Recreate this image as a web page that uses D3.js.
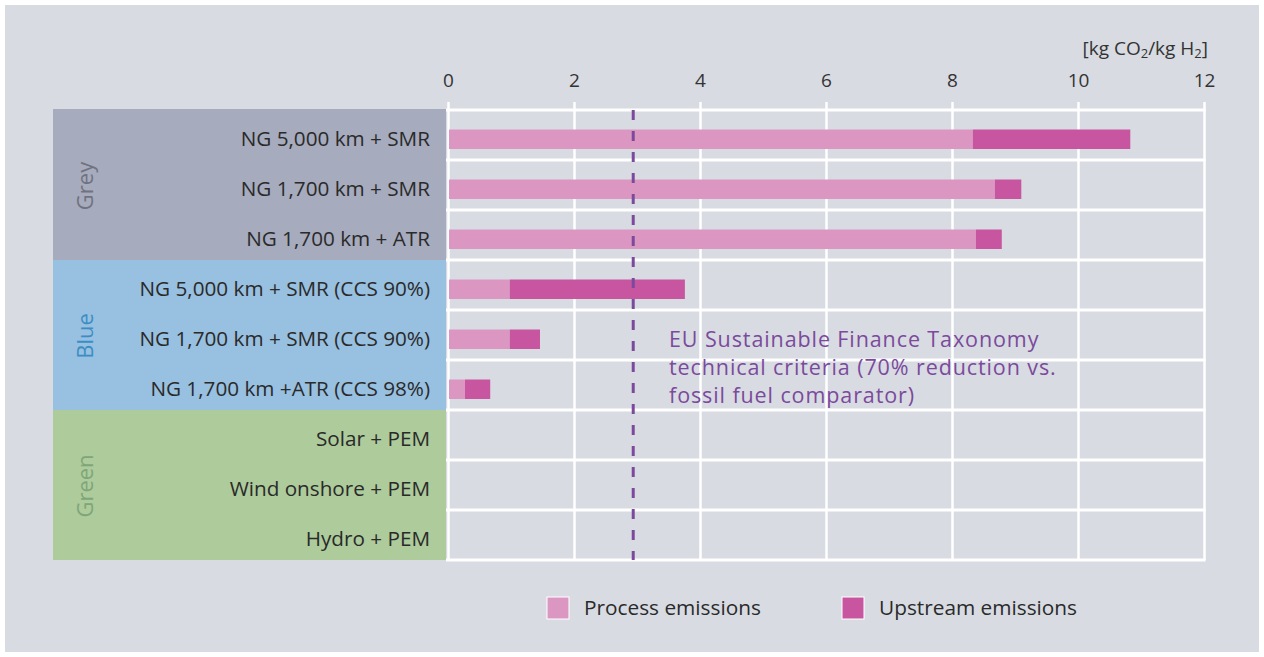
<!DOCTYPE html>
<html>
<head>
<meta charset="utf-8">
<script src="https://cdn.jsdelivr.net/npm/d3@7"></script>
<style>
  html, body { margin: 0; padding: 0; background: #ffffff; }
  svg { display: block; font-family: "Open Sans", sans-serif; }
</style>
</head>
<body>
<svg id="chart" width="1264" height="657"></svg>
<script>
// data
var categories = [
    "NG 5,000 km + SMR",
    "NG 1,700 km + SMR",
    "NG 1,700 km + ATR",
    "NG 5,000 km + SMR (CCS 90%)",
    "NG 1,700 km + SMR (CCS 90%)",
    "NG 1,700 km +ATR (CCS 98%)",
    "Solar + PEM",
    "Wind onshore + PEM",
    "Hydro + PEM"
];
var groupNames = ["Grey", "Blue", "Green"];
var groupOf = ["Grey", "Grey", "Grey", "Blue", "Blue", "Blue", "Green", "Green", "Green"];
var processEmissions  = [8.33, 8.68, 8.38, 0.98, 0.98, 0.27, 0, 0, 0];
var upstreamEmissions = [2.50, 0.42, 0.41, 2.78, 0.48, 0.40, 0, 0, 0];
var thresholdValue = 2.94;
var xTicks = [0, 2, 4, 6, 8, 10, 12];
var seriesNames = ["Process emissions", "Upstream emissions"];

var groupFill  = { "Grey": "#a6abbd", "Blue": "#98c0e0", "Green": "#adcb9b" };
var groupText  = { "Grey": "#70737f", "Blue": "#3b8ec4", "Green": "#7ea679" };
var seriesFill = ["#db97c2", "#c8559f"];
var purple = "#7b4a9c";

var svg = d3.select("#chart");

// panel
svg.append("rect")
    .attr("x", 5).attr("y", 5)
    .attr("width", 1254).attr("height", 647)
    .attr("fill", "#d8dbe2");

var x = d3.scaleLinear().domain([0, 12]).range([448, 1204]);
var y = d3.scaleBand().domain(categories).range([110, 560]).paddingInner(0);
var bw = y.bandwidth();

// group blocks on the left
groupNames.forEach(function(g) {
    var rows = categories.filter(function(c, i) { return groupOf[i] == g; });
    var top = y(rows[0]);
    var bottom = y(rows[rows.length - 1]) + bw;
    svg.append("rect")
        .attr("x", 53).attr("y", top - (g == "Grey" ? 1 : 0))
        .attr("width", 393).attr("height", bottom - top + (g == "Grey" ? 1 : 0))
        .attr("fill", groupFill[g]);
    var cy = (top + bottom) / 2 + 1;
    svg.append("text")
        .attr("transform", "translate(93," + cy + ") rotate(-90)")
        .attr("text-anchor", "middle")
        .attr("font-size", 22)
        .attr("fill", groupText[g])
        .text(g);
});

// category labels
svg.append("g").selectAll("text")
    .data(categories)
    .enter()
    .append("text")
    .attr("x", 430)
    .attr("y", function(d) { return y(d) + bw * 0.58; })
    .attr("dy", "0.35em")
    .attr("text-anchor", "end")
    .attr("font-size", 20.7)
    .attr("fill", "#2a2a2a")
    .text(function(d) { return d; });

// horizontal grid lines
svg.append("g").selectAll("line")
    .data(categories.concat(["__end"]))
    .enter()
    .append("line")
    .attr("x1", 446).attr("x2", 1205.5)
    .attr("y1", function(d, i) { return i < categories.length ? y(d) : y.range()[1]; })
    .attr("y2", function(d, i) { return i < categories.length ? y(d) : y.range()[1]; })
    .attr("stroke", "#ffffff")
    .attr("stroke-width", 3);

// vertical grid lines + tick labels
var axis = svg.append("g")
    .attr("transform", "translate(0,102)")
    .call(d3.axisTop(x).tickValues(xTicks).tickSize(-458).tickPadding(15).tickFormat(d3.format("d")));
axis.select(".domain").remove();
axis.selectAll(".tick line").attr("stroke", "#ffffff").attr("stroke-width", 2.5);
axis.selectAll(".tick text")
    .attr("font-size", 19)
    .attr("font-family", "'Open Sans', sans-serif")
    .attr("fill", "#333333");

// unit label
var unit = svg.append("text")
    .attr("x", 1208).attr("y", 55)
    .attr("text-anchor", "end")
    .attr("font-size", 19)
    .attr("fill", "#333333");
unit.append("tspan").text("[kg CO");
unit.append("tspan").attr("font-size", 13).attr("dy", 3).text("2");
unit.append("tspan").attr("dy", -3).text("/kg H");
unit.append("tspan").attr("font-size", 13).attr("dy", 3).text("2");
unit.append("tspan").attr("dy", -3).text("]");

// stacked bars
var barY = function(d) { return y(d) + bw * 0.39; };
var barH = bw * 0.39;

svg.append("g").selectAll("rect")
    .data(categories)
    .enter()
    .append("rect")
    .attr("x", x(0) + 1)
    .attr("y", barY)
    .attr("width", function(d, i) { return processEmissions[i] > 0 ? x(processEmissions[i]) - x(0) - 1 : 0; })
    .attr("height", barH)
    .attr("fill", seriesFill[0]);

svg.append("g").selectAll("rect")
    .data(categories)
    .enter()
    .append("rect")
    .attr("x", function(d, i) { return x(processEmissions[i]); })
    .attr("y", barY)
    .attr("width", function(d, i) { return x(processEmissions[i] + upstreamEmissions[i]) - x(processEmissions[i]); })
    .attr("height", barH)
    .attr("fill", seriesFill[1]);

// threshold line
svg.append("line")
    .attr("x1", x(thresholdValue)).attr("x2", x(thresholdValue))
    .attr("y1", 110).attr("y2", 560)
    .attr("stroke", purple)
    .attr("stroke-width", 3)
    .attr("stroke-dasharray", "10,11");

var note = ["EU Sustainable Finance Taxonomy",
            "technical criteria (70% reduction vs.",
            "fossil fuel comparator)"];
svg.append("g").selectAll("text")
    .data(note)
    .enter()
    .append("text")
    .attr("x", 669)
    .attr("y", function(d, i) { return 347 + i * 28; })
    .attr("font-size", 21.5)
    .attr("letter-spacing", 0.9)
    .attr("fill", purple)
    .text(function(d) { return d; });

// legend
var legX = [547, 842];
var leg = svg.append("g").selectAll("g")
    .data(seriesNames)
    .enter()
    .append("g")
    .attr("transform", function(d, i) { return "translate(" + legX[i] + ",597)"; });
leg.append("rect")
    .attr("width", 22).attr("height", 22)
    .attr("fill", function(d, i) { return seriesFill[i]; })
    .attr("stroke", "#ffffff")
    .attr("stroke-width", 1);
leg.append("text")
    .attr("x", 37).attr("y", 11)
    .attr("dy", "0.35em")
    .attr("font-size", 20.8)
    .attr("fill", "#2a2a2a")
    .text(function(d) { return d; });
</script>
</body>
</html>
